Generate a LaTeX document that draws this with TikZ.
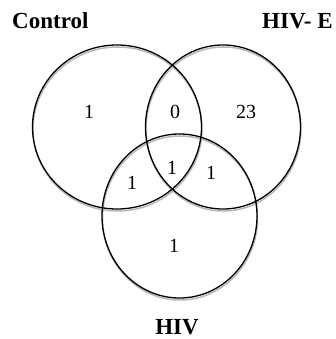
\documentclass[tikz,border=0pt]{standalone}
\usepackage{fontspec}
\setmainfont{Liberation Serif}
\begin{document}
\begin{tikzpicture}[x=1pt,y=-1pt,
  ring/.style={draw=black,line width=1.3pt},
  shadowring/.style={draw=black!28,line width=1.5pt},
  num/.style={inner sep=0pt,anchor=base,font=\fontsize{20}{20}\selectfont},
  lab/.style={inner sep=0pt,font=\fontsize{23}{23}\selectfont\bfseries}]
\useasboundingbox (0,0) rectangle (336,339);
\fill[white] (0,0) rectangle (336,339);
% shadows
\draw[shadowring] (117.5,129) ellipse [x radius=84.5pt, y radius=82pt];
\draw[shadowring] (223.5,129) ellipse [x radius=77.5pt, y radius=82pt];
\draw[shadowring] (180,218) ellipse [x radius=77.5pt, y radius=82pt];
% circles
\draw[ring] (117,127) ellipse [x radius=84.5pt, y radius=82pt];
\draw[ring] (223,127) ellipse [x radius=77.5pt, y radius=82pt];
\draw[ring] (179.5,216) ellipse [x radius=77.5pt, y radius=82pt];
% labels
\node[lab,anchor=base west] (lc) at (12,29) {Control};
\node[lab,anchor=base west] (le) at (262,29) {HIV- E};
\node[lab,anchor=base] (lh) at (177,334) {HIV};
% numbers
\node[num] (n1) at (89,119) {1};
\node[num] (n2) at (175,119) {0};
\node[num] (n3) at (246,119) {23};
\node[num] (n4) at (132,189) {1};
\node[num] (n5) at (172,174) {1};
\node[num] (n6) at (211,179) {1};
\node[num] (n7) at (174,252) {1};
\end{tikzpicture}
\end{document}
